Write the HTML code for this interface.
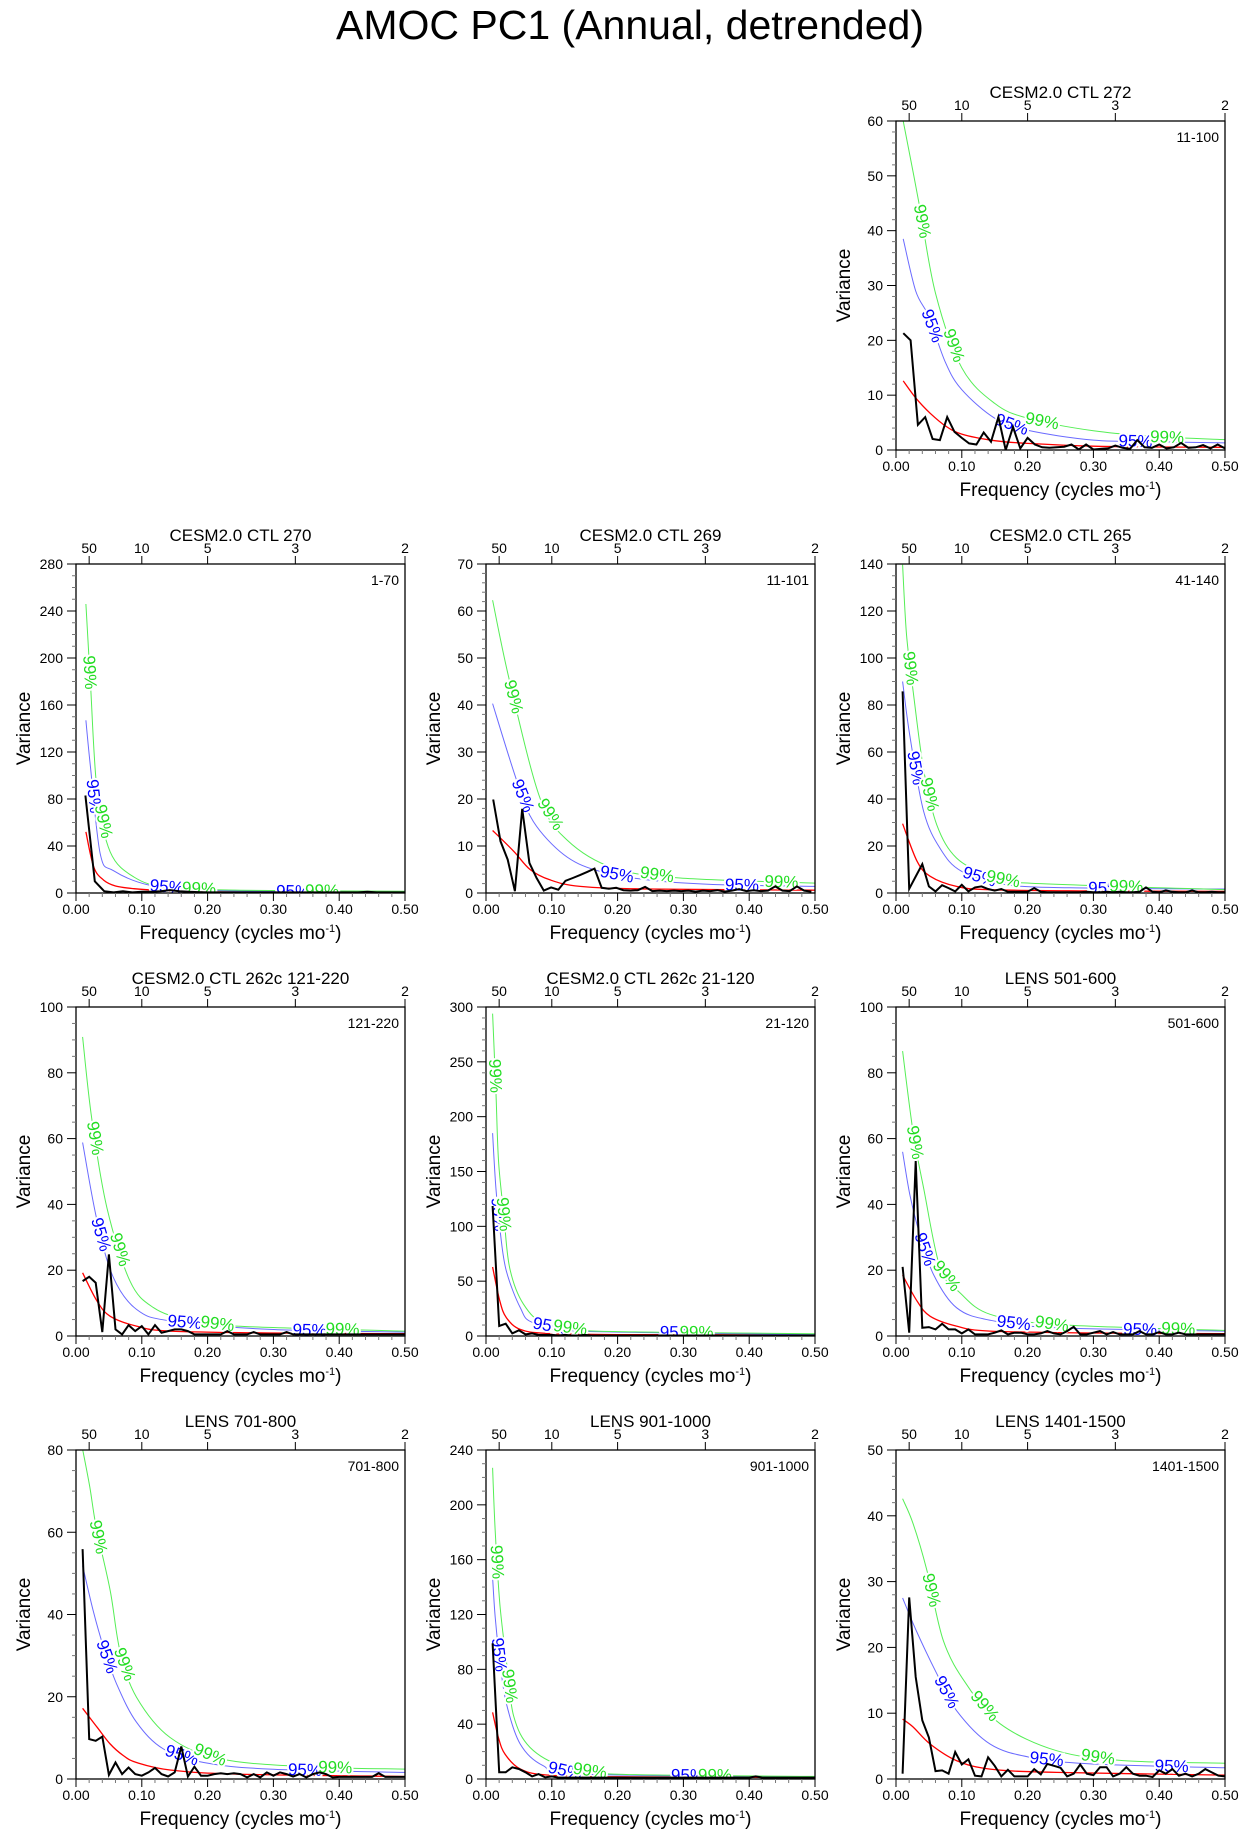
<!DOCTYPE html>
<html><head><meta charset="utf-8">
<style>
html,body{margin:0;padding:0;background:#fff;}
svg{display:block;font-family:"Liberation Sans",Arial,sans-serif;}
</style></head>
<body>
<svg id="fig" width="1246" height="1838" viewBox="0 0 1246 1838">
<text x="630" y="39" font-size="41" text-anchor="middle" fill="#000">AMOC PC1 (Annual, detrended)</text>
</svg>
<script>
// ---- data ----
const panelNames = ["CESM2.0 CTL 272","CESM2.0 CTL 270","CESM2.0 CTL 269","CESM2.0 CTL 265","CESM2.0 CTL 262c 121-220","CESM2.0 CTL 262c 21-120","LENS 501-600","LENS 701-800","LENS 901-1000","LENS 1401-1500"];
const panelRanges = ["11-100","1-70","11-101","41-140","121-220","21-120","501-600","701-800","901-1000","1401-1500"];
const panelSlots = [[2,0],[0,1],[1,1],[2,1],[0,2],[1,2],[2,2],[0,3],[1,3],[2,3]];
const yMax = [60,280,70,140,100,300,100,80,240,50];
const yMajor = [10,40,10,20,20,50,20,20,40,10];
const yMinorDiv = [5,4,5,4,4,5,4,4,4,5];
const seriesLen = [90,70,91,100,100,100,100,100,100,100];
const xTicks = [0,0.1,0.2,0.3,0.4,0.5];
const xTickLabels = ["0.00","0.10","0.20","0.30","0.40","0.50"];
const periodTicks = [50,10,5,3,2];

const spectra = [
 [21.3,20,4.6,6,2,1.8,6,3.3,2.2,1.2,1,3.2,1.5,6,0,4.2,0.3,2.2,1,0.5,0.4,0.5,0.6,1,0.1,1,0.1,0.2,0.3,0.8,0.4,0.2,1.8,0.5,0.4,1,0.3,0.5,1.3,0.4,0.5,0.9,0.3,1,0.3],
 [83,10,1.5,0.5,1.5,0.5,1,1,1.5,2.5,1.5,1,0.8,0.5,0.5,0.5,0.5,0.5,0.5,0.5,0.5,0.5,0.5,0.5,0.5,0.5,0.5,0.5,0.5,0.5,1,0.5,0.5,0.5,0.5],
 [19.9,11,7.1,0.4,17.9,6.4,3.2,0.5,1.2,0.7,2.6,3.2,3.8,4.5,5.2,1.1,0.9,1.1,0.6,0.5,0.6,1.3,0.4,0.5,0.4,0.5,0.4,0.5,0.3,0.5,0.4,0.6,0.3,0.5,0.8,0.4,0.6,0.4,0.5,1.4,0.5,0.4,1.4,0.5,0.3],
 [85.8,1.8,7,12.3,2.8,0.7,3.3,2.1,0.7,3.5,0.7,2.4,2.8,1.7,1,1.7,0.5,0.5,0.5,0.5,2.1,0.5,0.3,0.3,0.3,0.3,0.3,0.3,0.5,0.3,0.3,0.5,0.3,0.5,0.3,0.3,0.5,2.4,0.5,0.3,1.1,0.5,0.3,0.3,1.1,0.3,0.3,0.5,0.3,0.3],
 [16.7,18,16.2,1.2,24.8,2,0.5,3.3,1.5,3,0.5,3.3,1,1.5,2,2,1.5,0.5,0.5,0.5,0.5,0.5,1.5,0.5,0.5,0.5,1.2,0.5,0.5,0.5,0.5,1.2,0.5,0.5,0.5,0.5,0.5,0.5,0.5,0.5,0.5,0.5,0.5,0.5,0.5,0.5,0.5,0.5,0.5,0.5],
 [118.5,9.1,11.2,2.4,5.2,1.5,2.4,1,1,1,0.5,1,0.5,0.5,1,0.5,0.5,0.5,0.5,0.5,0.5,0.5,0.5,0.5,0.5,0.5,0.5,0.5,0.5,0.5,0.5,0.5,0.5,0.5,0.5,0.5,0.5,0.5,0.5,0.5,0.5,0.5,0.5,0.5,0.5,0.5,0.5,0.5,0.5,0.5],
 [21,1,53.2,2.5,2.7,2,3.7,2,2,0.8,2,0.5,0.5,0.5,1,1.7,0.5,1,1,0.5,0.5,0.8,1.5,0.8,0.5,1.5,2.8,0.5,0.5,1,1.5,0.5,1.2,0.5,0.5,0.5,1.5,0.5,0.5,1.2,0.5,0.5,1,0.5,0.5,0.5,0.5,0.5,0.5,0.5],
 [55.9,9.7,9.3,10.3,1,4,1.2,2.8,1.2,0.8,1.6,2.7,1.2,0.6,1.6,7.9,0.6,3,0.8,0.8,1.2,1.4,1.2,1.4,1.2,0.4,1.2,0.4,1.6,0.8,1.6,1.2,0.6,1.2,0.4,1.2,1.6,1.2,0.4,0.5,0.5,0.5,0.5,0.5,0.5,1.4,0.5,0.5,0.5,0.5],
 [99,4.9,4.9,8.5,7.3,4.9,1.9,3.6,1.2,1.9,1,1,1,1,1,1,1,1,1,1,1,1,1,1,1,1,1,1,1,1,1,1,1,1,1,1,1,1,1,1,1.9,1,1,1,1,1,1,1,1,1],
 [0.8,27.6,15.5,8.9,6.3,1.2,1.3,0.8,4.1,2.2,3,0.5,0.4,3.3,2,0.4,1.4,0.4,0.4,0.4,1.5,0.7,2.3,2,1.7,0.4,0.8,2.2,0.8,0.6,1.8,1.8,0.4,0.8,1.8,0.8,0.5,0.5,0.3,1.3,0.8,1.5,0.5,0.8,0.4,0.8,1.5,1,0.5,0.4]
];
const redCurves = [
 [[0.011,12.6],[0.03,9.5],[0.052,6.7],[0.075,4.4],[0.1,2.9],[0.15,1.7],[0.2,1.2],[0.3,0.7],[0.4,0.55],[0.5,0.5]],
 [[0.015,52],[0.027,22],[0.042,11],[0.06,6],[0.088,3.7],[0.13,2],[0.2,1],[0.3,0.7],[0.5,0.5]],
 [[0.01,13.3],[0.042,8.9],[0.067,5],[0.097,2.8],[0.143,1.4],[0.244,0.85],[0.5,0.6]],
 [[0.01,29.5],[0.032,13.5],[0.052,7.1],[0.092,2.8],[0.143,1.4],[0.3,0.9],[0.5,0.7]],
 [[0.01,19.2],[0.032,10.6],[0.052,6],[0.092,3],[0.143,1.5],[0.3,0.9],[0.5,0.7]],
 [[0.01,62.9],[0.021,32],[0.031,16.7],[0.052,6],[0.092,2.4],[0.2,1.3],[0.5,0.9]],
 [[0.01,18.5],[0.032,10.6],[0.052,6],[0.092,3],[0.143,1.5],[0.3,0.9],[0.5,0.7]],
 [[0.01,17.2],[0.032,12.6],[0.052,8.5],[0.072,5.7],[0.092,4],[0.143,2.2],[0.244,1.2],[0.5,0.6]],
 [[0.01,48.6],[0.019,30],[0.029,18],[0.052,7.3],[0.092,2.9],[0.2,1.6],[0.5,1.2]],
 [[0.01,9.1],[0.026,7.9],[0.052,5.3],[0.092,2.8],[0.143,1.5],[0.244,1],[0.5,0.6]]
];
const conf95 = [
 [[0.011,38.5],[0.03,29],[0.05,24.3],[0.075,16],[0.1,11],[0.15,5.8],[0.2,3.6],[0.3,1.8],[0.4,1.5],[0.5,1.3]],
 [[0.015,147],[0.022,107],[0.037,33],[0.057,19],[0.113,6.5],[0.2,2.5],[0.3,1.5],[0.5,1]],
 [[0.01,40.3],[0.047,23.8],[0.072,15.2],[0.118,8.2],[0.168,4.8],[0.244,2.8],[0.345,1.8],[0.5,1.4]],
 [[0.01,90],[0.021,67],[0.042,34.8],[0.067,19],[0.1,9.2],[0.168,3.5],[0.295,2.1],[0.5,1.7]],
 [[0.01,58.8],[0.032,35],[0.057,17.7],[0.092,8.1],[0.143,4.6],[0.295,2],[0.5,1.2]],
 [[0.01,185],[0.015,135],[0.022,93],[0.031,59],[0.052,26],[0.072,12],[0.143,4.5],[0.5,1.5]],
 [[0.01,56],[0.021,43],[0.036,31],[0.057,18.7],[0.092,8.6],[0.143,4.8],[0.244,2.5],[0.5,1.5]],
 [[0.01,51.9],[0.026,41],[0.042,32],[0.062,23],[0.092,13.8],[0.133,7.3],[0.194,4],[0.295,2.4],[0.5,1.6]],
 [[0.01,147],[0.014,118],[0.021,86],[0.031,55],[0.052,25.5],[0.087,9.7],[0.143,3.6],[0.5,1.5]],
 [[0.01,27.5],[0.031,22.5],[0.062,16],[0.092,10.4],[0.143,5.3],[0.204,3.3],[0.295,2.3],[0.5,1.7]]
];
const conf99 = [
 [[0.011,60],[0.035,45],[0.06,28.6],[0.1,15],[0.15,8.5],[0.2,5.8],[0.3,3.5],[0.4,2.4],[0.5,1.9]],
 [[0.015,246],[0.022,178],[0.032,87],[0.052,35],[0.088,13.6],[0.138,5],[0.25,2.4],[0.5,1.5]],
 [[0.01,62.3],[0.036,45],[0.082,20.2],[0.123,11.3],[0.194,5.3],[0.295,3.2],[0.5,2.1]],
 [[0.01,139.7],[0.016,110],[0.026,86],[0.042,52.5],[0.062,29],[0.092,14.9],[0.143,7.1],[0.194,4.3],[0.5,1.4]],
 [[0.01,90.9],[0.024,66],[0.047,39],[0.082,16.7],[0.118,8.6],[0.168,5],[0.244,3],[0.5,1.5]],
 [[0.01,294],[0.015,223],[0.019,160],[0.027,111],[0.036,62],[0.057,29],[0.092,10.6],[0.168,4.5],[0.5,2.1]],
 [[0.01,86.6],[0.026,62],[0.042,45],[0.067,20.8],[0.097,13.2],[0.143,6.6],[0.244,3.5],[0.5,1.7]],
 [[0.01,80.2],[0.021,71],[0.031,61],[0.052,45.8],[0.067,31],[0.092,19.9],[0.143,10.1],[0.219,4.9],[0.345,3],[0.5,2.4]],
 [[0.01,227],[0.014,181],[0.021,128],[0.031,86],[0.042,46],[0.067,23],[0.118,9],[0.194,3.6],[0.5,1.9]],
 [[0.01,42.6],[0.026,38.8],[0.047,31.7],[0.072,21],[0.107,14.4],[0.158,8.4],[0.244,4.3],[0.345,2.8],[0.5,2.4]]
];
const curveLabels = [
 [["99",0.04],["95",0.055],["99",0.088],["95",0.176],["99",0.222],["95",0.364],["99",0.412]],
 [["99",0.021],["95",0.027],["99",0.042],["95",0.138],["99",0.187],["95",0.33],["99",0.374]],
 [["99",0.042],["95",0.056],["99",0.098],["95",0.199],["99",0.26],["95",0.389],["99",0.449]],
 [["99",0.022],["95",0.03],["99",0.051],["95",0.127],["99",0.163],["95",0.318],["99",0.35]],
 [["99",0.029],["95",0.038],["99",0.067],["95",0.165],["99",0.215],["95",0.355],["99",0.405]],
 [["99",0.014],["95",0.019],["99",0.027],["95",0.097],["99",0.128],["95",0.29],["99",0.32]],
 [["99",0.029],["95",0.044],["99",0.077],["95",0.179],["99",0.237],["95",0.371],["99",0.429]],
 [["99",0.034],["95",0.047],["99",0.074],["95",0.161],["99",0.204],["95",0.348],["99",0.394]],
 [["99",0.017],["95",0.02],["99",0.036],["95",0.12],["99",0.158],["95",0.307],["99",0.348]],
 [["99",0.054],["95",0.077],["99",0.135],["95",0.229],["99",0.307],["95",0.419]]
];

// ---- drawing ----
const NS = "http://www.w3.org/2000/svg";
const svg = document.getElementById("fig");
const colX = [76,486,896], rowY = [121,564,1007,1450], W = 329, H = 329;
function mk(tag, attrs, parent){ const e=document.createElementNS(NS,tag); for(const k in attrs) e.setAttribute(k,attrs[k]); (parent||svg).appendChild(e); return e; }
function interp(c,f){
  if(f<=c[0][0]) return c[0][1];
  for(let i=1;i<c.length;i++){ if(f<=c[i][0]){ const t=(f-c[i-1][0])/(c[i][0]-c[i-1][0]); return c[i-1][1]+t*(c[i][1]-c[i-1][1]); } }
  return c[c.length-1][1];
}
function smoothPath(pts){
  let d="M"+pts[0][0].toFixed(1)+","+pts[0][1].toFixed(1);
  for(let i=0;i<pts.length-1;i++){
    const p0=pts[Math.max(0,i-1)],p1=pts[i],p2=pts[i+1],p3=pts[Math.min(pts.length-1,i+2)];
    const c1=[p1[0]+(p2[0]-p0[0])/6,p1[1]+(p2[1]-p0[1])/6], c2=[p2[0]-(p3[0]-p1[0])/6,p2[1]-(p3[1]-p1[1])/6];
    d+="C"+c1[0].toFixed(1)+","+c1[1].toFixed(1)+" "+c2[0].toFixed(1)+","+c2[1].toFixed(1)+" "+p2[0].toFixed(1)+","+p2[1].toFixed(1);
  }
  return d;
}

panelNames.forEach((name,p)=>{
  const L = colX[panelSlots[p][0]], T = rowY[panelSlots[p][1]];
  const xs = f => L + f/0.5*W;
  const ys = v => T + H - v/yMax[p]*H;
  const g = mk("g",{});
  
  
  const clipId="clip"+p;
  const cp = mk("clipPath",{id:clipId},g); mk("rect",{x:L,y:T,width:W,height:H},cp);

  const t = mk("text",{x:L+W/2,y:T-23,"font-size":17,"text-anchor":"middle"},g);
  t.textContent = name;
  
  

  const rl = mk("text",{x:L+W-6,y:T+21,"font-size":14,"text-anchor":"end"},g);
  rl.textContent = panelRanges[p];
  
  

  const cg = mk("g",{"clip-path":"url(#"+clipId+")"},g);
  const red = mk("path",{d:smoothPath(redCurves[p].map(q=>[xs(q[0]),ys(q[1])])),fill:"none",stroke:"#ff0000","stroke-width":1.3},cg);
  
  
  const b95 = mk("path",{d:smoothPath(conf95[p].map(q=>[xs(q[0]),ys(q[1])])),fill:"none",stroke:"#6a6aff","stroke-width":1},cg);
  
  
  const g99 = mk("path",{d:smoothPath(conf99[p].map(q=>[xs(q[0]),ys(q[1])])),fill:"none",stroke:"#55ee55","stroke-width":1},cg);
  
  

  curveLabels[p].forEach(lb=>{
    const c = lb[0]==="95" ? conf95[p] : conf99[p];
    const f = lb[1];
    const x = xs(f), y = ys(interp(c,f));
    const dx = xs(f+0.004)-xs(f-0.004), dy = ys(interp(c,f+0.004))-ys(interp(c,Math.max(0.0001,f-0.004)));
    const ang = Math.atan2(dy,dx)*180/Math.PI;
    const tx = mk("text",{x:x,y:y,"font-size":17,"text-anchor":"middle","dominant-baseline":"central",
      fill: lb[0]==="95" ? "#0000ff" : "#22dd22", stroke:"#fff","stroke-width":4,"paint-order":"stroke",
      transform:"rotate("+ang.toFixed(1)+" "+x.toFixed(1)+" "+y.toFixed(1)+")"},cg);
    tx.textContent = lb[0]+"%";
    
    
  });

  const sp = spectra[p].map((v,k)=>[xs((k+1)/seriesLen[p]), ys(v)]);
  const line = mk("polyline",{points:sp.map(q=>q[0].toFixed(1)+","+q[1].toFixed(1)).join(" "),fill:"none",stroke:"#000","stroke-width":2,"stroke-linejoin":"miter"},cg);
  
  

  const fr = mk("rect",{x:L,y:T,width:W,height:H,fill:"none",stroke:"#000","stroke-width":1.3},g);
  
  

  const yax = mk("g",{},g);
  
  
  const minorStep = yMajor[p]/yMinorDiv[p];
  for(let v=0; v<=yMax[p]+1e-9; v+=minorStep){
    const isMaj = Math.abs(v/yMajor[p]-Math.round(v/yMajor[p]))<1e-6;
    const y = ys(v);
    mk("line",{x1:L,x2:L-(isMaj?9:4),y1:y,y2:y,stroke:isMaj?"#000":"#777","stroke-width":1},yax);
    if(isMaj){ const tl=mk("text",{x:L-13,y:y+5,"font-size":14,"text-anchor":"end"},yax); tl.textContent=String(Math.round(v)); }
  }
  const yt = mk("text",{x:L-46,y:T+H/2,"font-size":19,"text-anchor":"middle",transform:"rotate(-90 "+(L-46)+" "+(T+H/2)+")"},g);
  yt.textContent = "Variance";
  
  

  const xax = mk("g",{},g);
  
  
  for(let i=0;i<=25;i++){
    const f=i*0.02, x=xs(f), isMaj = i%5===0;
    mk("line",{x1:x,x2:x,y1:T+H,y2:T+H+(isMaj?8:4),stroke:isMaj?"#000":"#777","stroke-width":1},xax);
  }
  xTicks.forEach((f,i)=>{ const tl=mk("text",{x:xs(f),y:T+H+21,"font-size":14,"text-anchor":"middle"},xax); tl.textContent=xTickLabels[i]; });
  const xt = mk("text",{x:L+W/2,y:T+H+46,"font-size":19,"text-anchor":"middle"},g);
  xt.innerHTML = 'Frequency (cycles mo<tspan dy="-7" font-size="11">-1</tspan><tspan dy="7">)</tspan>';
  
  

  const tax = mk("g",{},g);
  
  
  periodTicks.forEach(per=>{
    const x = xs(1/per);
    mk("line",{x1:x,x2:x,y1:T,y2:T-8,stroke:"#000","stroke-width":1},tax);
    const tl=mk("text",{x:x,y:T-11,"font-size":14,"text-anchor":"middle"},tax); tl.textContent=String(per);
  });
});
</script>
</body></html>
